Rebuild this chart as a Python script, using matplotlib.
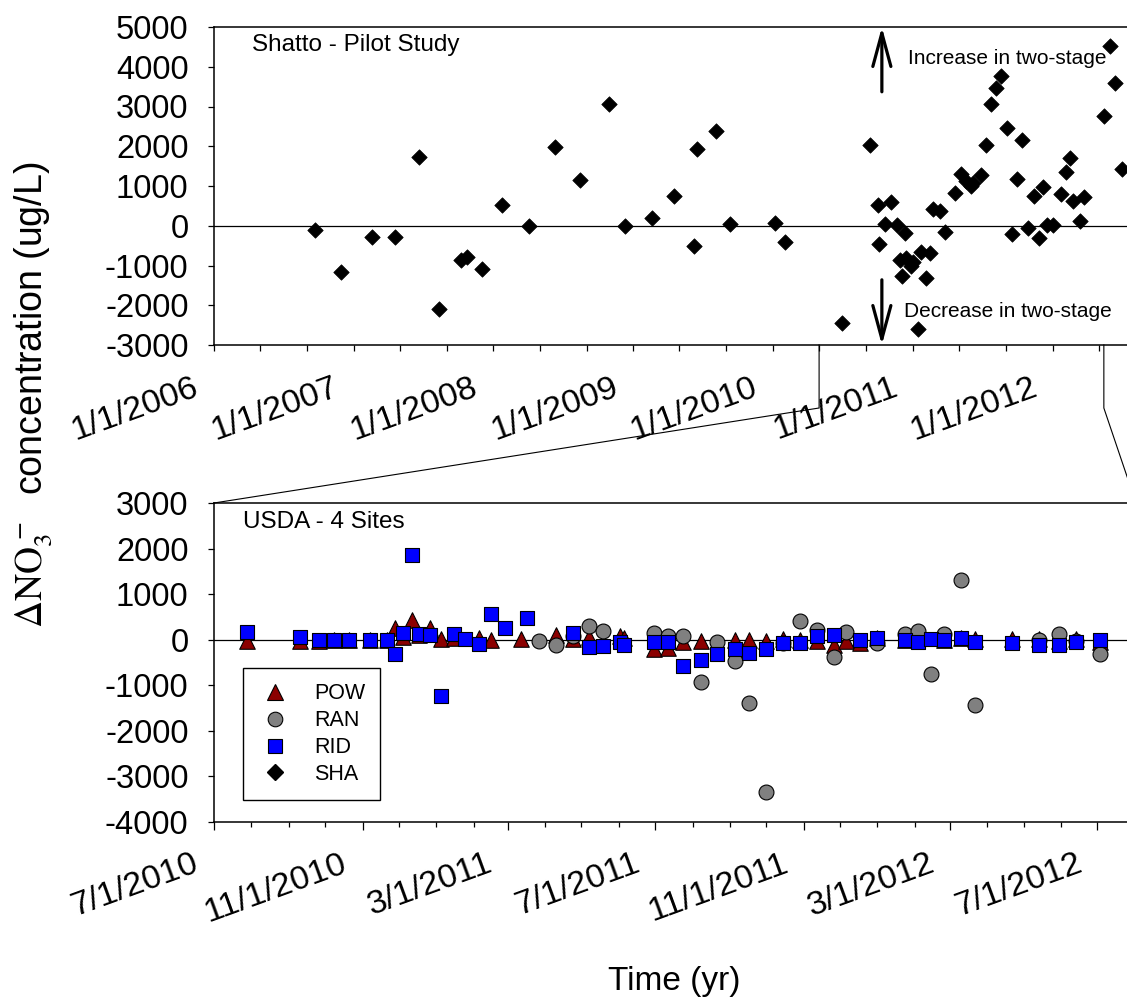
import matplotlib
matplotlib.use("Agg")
import matplotlib.pyplot as plt
import matplotlib.dates as mdates
import matplotlib.transforms as mtransforms
from matplotlib.lines import Line2D
from matplotlib.ticker import FuncFormatter
import pandas as pd

plt.rcParams["font.family"] = ["Liberation Sans", "DejaVu Sans"]
plt.rcParams["mathtext.fontset"] = "stix"
plt.rcParams["axes.unicode_minus"] = False

# Shatto pilot study (top panel)
sha_dates = [
    "2006-09-22", "2006-11-29", "2007-02-18", "2007-04-20", "2007-06-21", "2007-08-12",
    "2007-10-08", "2007-10-23", "2007-12-01", "2008-01-24", "2008-04-04", "2008-06-11",
    "2008-08-13", "2008-10-29", "2008-12-11", "2009-02-19", "2009-04-17", "2009-06-08",
    "2009-06-15", "2009-08-04", "2009-09-10", "2010-01-05", "2010-01-31", "2010-06-29",
    "2010-09-10", "2010-10-02", "2010-10-05", "2010-10-20", "2010-11-06", "2010-11-21",
    "2010-11-28", "2010-12-04", "2010-12-11", "2010-12-15", "2010-12-28", "2011-01-02",
    "2011-01-15", "2011-01-23", "2011-02-04", "2011-02-16", "2011-02-23", "2011-03-12",
    "2011-03-25", "2011-04-22", "2011-05-06", "2011-05-19", "2011-06-01", "2011-06-07",
    "2011-06-29", "2011-07-12", "2011-07-23", "2011-08-07", "2011-08-20", "2011-09-04",
    "2011-09-17", "2011-09-30", "2011-10-14", "2011-10-29", "2011-11-13", "2011-11-26",
    "2011-12-07", "2011-12-18", "2012-01-02", "2012-01-24", "2012-02-04", "2012-02-15",
    "2012-02-23", "2012-03-12", "2012-03-23", "2012-05-14", "2012-05-30", "2012-06-13",
    "2012-06-30",
]
sha_values = [
    -100, -1170, -290, -290, 1730, -2090,
    -870, -790, -1090, 530, 0, 1970,
    1150, 3060, 0, 190, 760, -520,
    1935, 2395, 50, 80, -410, -2450,
    2020, 530, -460, 50, 610, 10,
    -855, -1275, -185, -815, -1020, -900,
    -2610, -670, -1315, -690, 420, 360,
    -160, 820, 1305, 1115, 990, 1070,
    1265, 2020, 3065, 3460, 3770, 2465,
    -200, 1180, 2145, -60, 760, -310,
    970, 10, 10, 805, 1340, 1715,
    635, 125, 720, 2765, 4525, 3585,
    1425,
]

# USDA 4 sites (bottom panel)
pow_dates = [
    "2010-07-28", "2010-09-10", "2010-09-26", "2010-10-08", "2010-10-21", "2010-11-07",
    "2010-11-21", "2010-11-28", "2010-12-04", "2010-12-12", "2010-12-18", "2010-12-27",
    "2011-01-05", "2011-01-16", "2011-02-05", "2011-02-15", "2011-03-12", "2011-04-10",
    "2011-04-24", "2011-05-07", "2011-06-02", "2011-06-05", "2011-06-30", "2011-07-12",
    "2011-07-24", "2011-08-08", "2011-09-05", "2011-09-17", "2011-10-01", "2011-10-15",
    "2011-10-29", "2011-11-12", "2011-11-26", "2011-12-06", "2011-12-18", "2012-01-01",
    "2012-01-24", "2012-02-25", "2012-03-10", "2012-03-22", "2012-04-21", "2012-05-14",
    "2012-05-30", "2012-06-13", "2012-07-03",
]
pow_values = [
    -35, -25, -30, -15, -15, -10,
    -15, 255, 70, 440, 110, 255,
    15, 40, 35, -15, 15, 95,
    15, 60, 75, 30, -200, -185,
    -60, -20, -15, -15, -20, 15,
    0, -35, -110, -20, -80, 40,
    0, 0, 30, 20, 20, 20,
    -20, 15, -40,
]

ran_dates = [
    "2011-03-27", "2011-04-10", "2011-04-24", "2011-05-07", "2011-05-19", "2011-06-30",
    "2011-07-12", "2011-07-24", "2011-08-08", "2011-08-21", "2011-09-05", "2011-09-17",
    "2011-10-01", "2011-10-15", "2011-10-29", "2011-11-12", "2011-11-26", "2011-12-06",
    "2012-01-01", "2012-01-24", "2012-02-04", "2012-02-14", "2012-02-25", "2012-03-10",
    "2012-03-22", "2012-05-14", "2012-05-30", "2012-06-13", "2012-07-03",
]
ran_values = [
    -35, -110, 75, 305, 185, 150,
    90, 75, -935, -50, -460, -1395,
    -3350, -75, 400, 220, -375, 160,
    -75, 130, 185, -745, 130, 1315,
    -1425, -15, 130, -30, -305,
]

rid_dates = [
    "2010-07-28", "2010-09-10", "2010-09-26", "2010-10-08", "2010-10-21", "2010-11-07",
    "2010-11-21", "2010-11-28", "2010-12-04", "2010-12-12", "2010-12-18", "2010-12-27",
    "2011-01-05", "2011-01-16", "2011-01-25", "2011-02-05", "2011-02-15", "2011-02-27",
    "2011-03-17", "2011-04-24", "2011-05-07", "2011-05-19", "2011-06-02", "2011-06-05",
    "2011-06-30", "2011-07-12", "2011-07-24", "2011-08-08", "2011-08-21", "2011-09-05",
    "2011-09-17", "2011-10-01", "2011-10-15", "2011-10-29", "2011-11-12", "2011-11-26",
    "2011-12-18", "2012-01-01", "2012-01-24", "2012-02-04", "2012-02-14", "2012-02-25",
    "2012-03-10", "2012-03-22", "2012-04-21", "2012-05-14", "2012-05-30", "2012-06-13",
    "2012-07-03",
]
rid_values = [
    160, 60, 0, 0, 0, 0,
    0, -310, 145, 1850, 130, 100,
    -1240, 115, 15, -95, 570, 250,
    475, 145, -160, -130, -60, -110,
    -50, -50, -585, -455, -305, -195,
    -290, -205, -75, -75, 90, 95,
    0, 35, -15, -60, 15, 0,
    35, -60, -75, -125, -125, -60,
    0,
]

top_xlim = ("2006-01-01", "2012-08-06")
bot_xlim = ("2010-07-01", "2012-08-02")
zoom_span = ("2010-05-01", "2012-05-14")  # where the zoom connector leaves the top axis
arrow_date = "2010-10-12"


def date_label(x, pos=None):
    d = mdates.num2date(x)
    return f"{d.month}/{d.day}/{d.year}"


def style_axes(ax, ylim, yticks):
    ax.set_ylim(*ylim)
    ax.set_yticks(yticks)
    for side in ["left", "bottom", "top"]:
        ax.spines[side].set_linewidth(1.1)
    ax.spines["right"].set_visible(False)
    ax.axhline(0, color="black", lw=0.9, zorder=1)
    ax.tick_params(axis="y", direction="out", length=4.3, width=0.9,
                   labelsize=23.5, pad=14)
    ax.xaxis.set_major_formatter(FuncFormatter(date_label))


fig = plt.figure(figsize=(11.27, 9.99), dpi=100)
W, H = 1127, 999
left, right = 214, 1136
ax_top = fig.add_axes([left / W, 1 - 345 / H, (right - left) / W, 318 / H])
ax_bot = fig.add_axes([left / W, 1 - 822 / H, (right - left) / W, 319 / H])

# top panel
ax_top.scatter(pd.to_datetime(sha_dates), sha_values, marker="D", s=62,
               color="black", edgecolors="black", linewidths=0.5, zorder=3)
ax_top.set_xlim(pd.to_datetime(top_xlim[0]), pd.to_datetime(top_xlim[1]))
style_axes(ax_top, (-3000, 5000), range(-3000, 5001, 1000))
ax_top.xaxis.set_major_locator(mdates.YearLocator())
ax_top.xaxis.set_minor_locator(mdates.MonthLocator(bymonth=[5, 9]))
ax_top.tick_params(axis="x", which="both", direction="out", length=4.3,
                   width=0.9, labelsize=24.5, pad=15)
ax_top.text(0.041, 0.943, "Shatto - Pilot Study", transform=ax_top.transAxes,
            fontsize=17.5, va="center", ha="left")
ax_top.text(0.7527, 0.9025, "Increase in two-stage", transform=ax_top.transAxes,
            fontsize=15, va="center", ha="left")
ax_top.text(0.7484, 0.1038, "Decrease in two-stage", transform=ax_top.transAxes,
            fontsize=15, va="center", ha="left")
arrow_x = pd.to_datetime(arrow_date)
arrow_kw = dict(arrowstyle="->,head_length=2.4,head_width=0.65", lw=2.3,
                color="black", shrinkA=0, shrinkB=0, mutation_scale=10)
ax_top.annotate("", xy=(arrow_x, 5000), xytext=(arrow_x, 3370),
                arrowprops=arrow_kw, annotation_clip=False)
ax_top.annotate("", xy=(arrow_x, -3000), xytext=(arrow_x, -1360),
                arrowprops=arrow_kw, annotation_clip=False)

# bottom panel
ax_bot.scatter(pd.to_datetime(pow_dates), pow_values, marker="^", s=125,
               color="#8B0000", edgecolors="black", linewidths=0.8, zorder=3)
ax_bot.scatter(pd.to_datetime(ran_dates), ran_values, marker="o", s=115,
               color="#808080", edgecolors="black", linewidths=0.8, zorder=4)
ax_bot.scatter(pd.to_datetime(rid_dates), rid_values, marker="s", s=110,
               color="#0000FF", edgecolors="black", linewidths=0.8, zorder=5)
ax_bot.set_xlim(pd.to_datetime(bot_xlim[0]), pd.to_datetime(bot_xlim[1]))
style_axes(ax_bot, (-4000, 3000), range(-4000, 3001, 1000))
ax_bot.xaxis.set_major_locator(mdates.MonthLocator(bymonth=[3, 7, 11]))
ax_bot.xaxis.set_minor_locator(mdates.MonthLocator())
ax_bot.tick_params(axis="x", which="major", direction="out", length=6,
                   width=0.9, labelsize=24.5, pad=13)
ax_bot.tick_params(axis="x", which="minor", direction="out", length=3.8, width=0.9)
ax_bot.text(0.0315, 0.94, "USDA - 4 Sites", transform=ax_bot.transAxes,
            fontsize=17.5, va="center", ha="left")

handles = [
    Line2D([], [], ls="none", marker="^", ms=11, mfc="#8B0000", mec="black", mew=0.8, label="POW"),
    Line2D([], [], ls="none", marker="o", ms=10.5, mfc="#808080", mec="black", mew=0.8, label="RAN"),
    Line2D([], [], ls="none", marker="s", ms=10, mfc="#0000FF", mec="black", mew=0.8, label="RID"),
    Line2D([], [], ls="none", marker="D", ms=8, mfc="black", mec="black", label="SHA"),
]
leg = ax_bot.legend(handles=handles, loc="lower left", bbox_to_anchor=(0.0315, 0.069),
                    borderaxespad=0, fancybox=False, edgecolor="black", framealpha=1,
                    fontsize=15.5, handlelength=1.6, handletextpad=1.0,
                    labelspacing=0.27, borderpad=0.7)
leg.get_frame().set_linewidth(1.0)

fig.text(33 / W, 1 - 395 / H,
         r"$\Delta\mathrm{NO}_3^{\,-}$  concentration (ug/L)",
         rotation=90, ha="center", va="center", fontsize=27)
fig.text(674 / W, 1 - 990 / H, "Time (yr)", ha="center", va="baseline", fontsize=24)

# rotate the date labels and nudge them left of their ticks
fig.canvas.draw()
shift = mtransforms.ScaledTranslation(-22 / 100, 0, fig.dpi_scale_trans)
for ax in (ax_top, ax_bot):
    for lab in ax.get_xticklabels():
        lab.set_rotation(20)
        lab.set_ha("right")
        lab.set_va("top")
        lab.set_rotation_mode("anchor")
        lab.set_transform(lab.get_transform() + shift)

# zoom connector lines from the top axis down to the bottom panel
to_fig = fig.transFigure.inverted()
bend_y = 1 - 408 / H
for date, corner in ((zoom_span[0], (0, 1)), (zoom_span[1], (1, 1))):
    x_num = mdates.date2num(pd.to_datetime(date))
    p0 = to_fig.transform(ax_top.transData.transform((x_num, -3000)))
    p2 = to_fig.transform(ax_bot.transAxes.transform(corner))
    fig.add_artist(Line2D([p0[0], p0[0], p2[0]], [p0[1], bend_y, p2[1]],
                          transform=fig.transFigure, color="black", lw=0.8))

fig.savefig("out.png", dpi=100)
